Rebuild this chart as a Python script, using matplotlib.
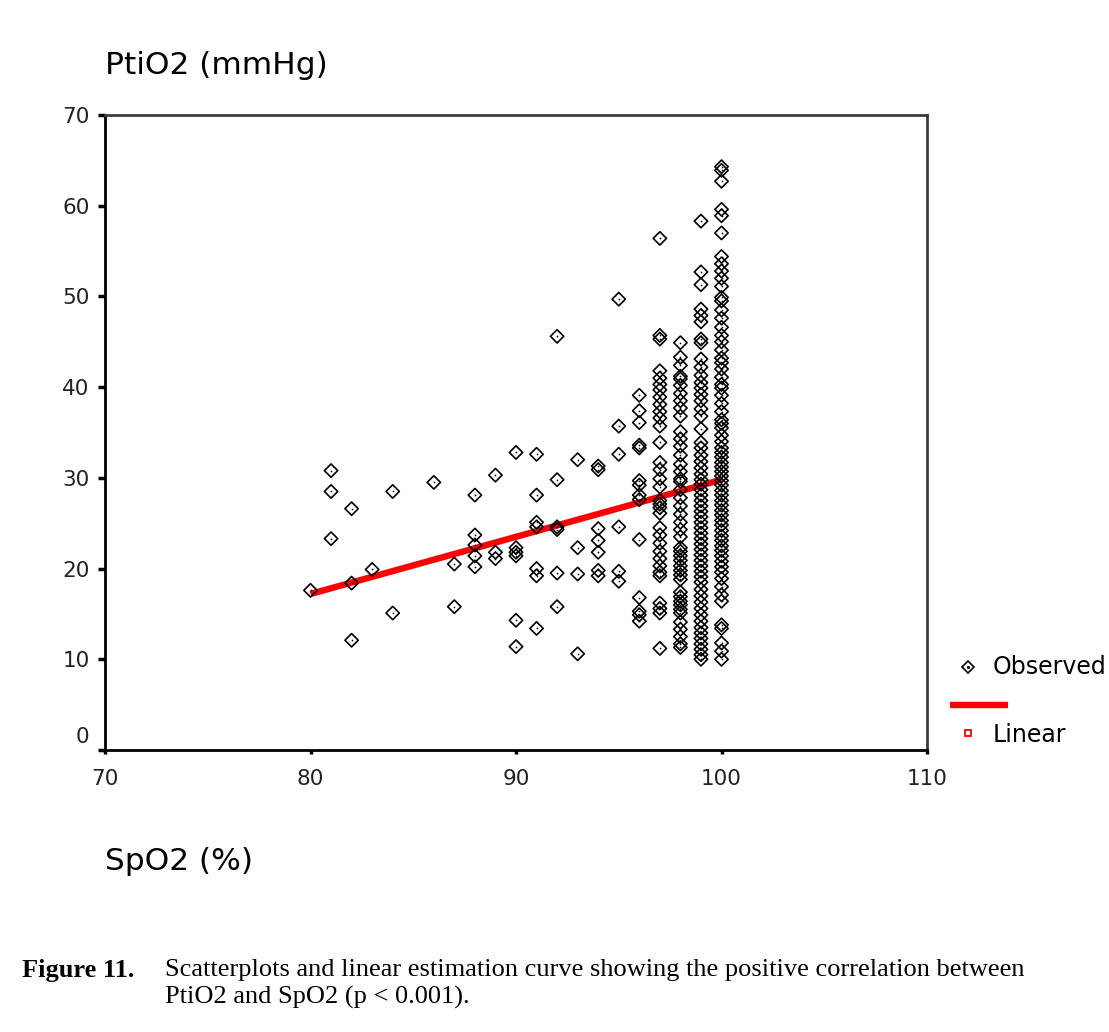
import numpy as np
import matplotlib
matplotlib.use('Agg')
import matplotlib.pyplot as plt
from matplotlib.lines import Line2D
from matplotlib.transforms import ScaledTranslation

# observed points, grouped by SpO2 (%) value -> PtiO2 (mmHg)
obs = {
    80: [17.6],
    81: [30.8, 28.5, 23.3],
    82: [26.6, 18.4, 12.1],
    83: [19.9],
    84: [28.5, 15.1],
    86: [29.5],
    87: [20.5, 15.8],
    88: [28.1, 23.7, 22.6, 21.4, 20.2],
    89: [30.3, 21.8, 21.1],
    90: [32.8, 22.3, 21.8, 21.4, 14.3, 11.4],
    91: [32.6, 28.1, 25.1, 24.6, 20.0, 19.2, 13.4],
    92: [45.6, 29.8, 24.6, 24.3, 19.5, 15.8],
    93: [32.0, 22.3, 19.4, 10.6],
    94: [31.3, 30.9, 24.4, 23.1, 21.8, 19.8, 19.2],
    95: [49.7, 35.7, 32.6, 24.6, 19.7, 18.6],
    96: [39.1, 37.4, 36.1, 33.6, 33.3, 29.7, 29.2, 28.1, 27.6, 23.2, 16.8, 15.3, 14.9, 14.2],
    97: [56.4, 45.7, 45.3, 41.8, 41.0, 40.3, 39.7, 38.9, 38.1, 37.3, 36.6, 35.7, 33.9, 31.7,
         30.9, 29.9, 29.0, 27.5, 27.1, 26.7, 26.1, 24.5, 23.7, 22.8, 21.9, 21.1, 20.3, 19.6,
         19.2, 16.2, 15.6, 15.1, 11.2],
    98: [44.9, 43.3, 42.4, 41.2, 40.9, 40.2, 39.3, 38.5, 37.7, 36.8, 35.1, 34.3, 33.5, 32.5,
         31.5, 30.7, 29.9, 29.6, 28.7, 27.8, 26.9, 26.0, 25.1, 24.3, 23.5, 22.3, 21.9, 21.4,
         20.9, 20.3, 19.8, 19.3, 18.8, 17.4, 16.9, 16.4, 16.0, 15.5, 15.1, 14.1, 13.3, 12.5,
         11.7, 11.3],
    99: [58.3, 52.7, 51.3, 48.6, 47.9, 47.2, 45.3, 44.9, 43.1, 42.2, 41.3, 40.5, 39.9, 39.2,
         38.5, 37.6, 36.8, 35.4, 33.9, 33.3, 32.5, 31.8, 31.1, 30.4, 29.8, 29.3, 28.7, 28.1,
         27.5, 26.9, 26.3, 25.7, 25.1, 24.5, 23.9, 23.3, 22.7, 22.1, 21.5, 20.9, 20.3, 19.7,
         19.1, 18.5, 17.7, 17.0, 16.3, 15.6, 14.9, 14.2, 13.5, 12.9, 12.3, 11.7, 11.1, 10.5,
         10.0],
    100: [64.3, 63.9, 62.7, 59.6, 58.9, 57.0, 54.4, 53.6, 52.8, 52.0, 51.1, 49.9, 49.5, 48.5,
          47.6, 46.6, 45.7, 45.0, 44.1, 43.2, 42.7, 42.0, 41.1, 40.3, 39.9, 39.1, 38.2, 37.3,
          36.4, 36.0, 35.5, 34.7, 34.0, 33.3, 32.8, 32.3, 31.7, 31.2, 30.7, 30.2, 29.7, 29.2,
          28.6, 28.1, 27.5, 27.0, 26.4, 25.9, 25.3, 24.8, 24.2, 23.6, 23.1, 22.5, 22.0, 21.4,
          20.8, 20.2, 19.6, 18.9, 18.0, 17.1, 16.4, 13.8, 13.4, 11.8, 10.9, 10.0],
}

# linear estimation curve end points
fit_x = [80, 100]
fit_y = [17.2, 29.8]

x_ticks = [70, 80, 90, 100, 110]
y_ticks = [0, 10, 20, 30, 40, 50, 60, 70]

spo2 = np.concatenate([[k] * len(v) for k, v in obs.items()])
ptio2 = np.concatenate([v for v in obs.values()])

f = plt.figure(figsize=(11.09, 10.32), dpi=100)
ax = f.add_axes([105/1109, 1-750/1032, 822/1109, 635/1032])

ax.scatter(spo2, ptio2, marker='D', s=46, facecolor='none', edgecolor='k', lw=1.2, zorder=3)
ax.scatter(spo2, ptio2, marker='o', s=1.5, c='k', lw=0, zorder=4)
ax.plot(fit_x, fit_y, color='#ff0000', lw=4.6, solid_capstyle='butt', zorder=2)

ax.set_xlim(70, 110)
ax.set_ylim(0, 70)
ax.set_xticks(x_ticks)
ax.set_yticks(y_ticks)

for s in ['left', 'bottom']:
    ax.spines[s].set_linewidth(2.0)
    ax.spines[s].set_color('k')
for s in ['top', 'right']:
    ax.spines[s].set_linewidth(2.0)
    ax.spines[s].set_color('#3c3c3c')

ax.tick_params(axis='x', length=3, width=2.5, pad=11, labelsize=15.5, labelcolor='#222222')
ax.tick_params(axis='y', length=5, width=2.5, pad=6, labelsize=15.5, labelcolor='#222222')

# SPSS puts the "0" label a bit above the axis corner
lab0 = ax.get_yticklabels()[0]
lab0.set_transform(lab0.get_transform() + ScaledTranslation(0, 0.15, f.dpi_scale_trans))

# axis titles
f.text(105/1109, 1-65/1032, 'PtiO2 (mmHg)', fontsize=22.5, ha='left', va='center')
f.text(105/1109, 1-862/1032, 'SpO2 (%)', fontsize=22.5, ha='left', va='center')

# legend (SPSS style, drawn by hand)
f.add_artist(Line2D([968/1109], [1-667/1032], marker='D', ms=6.2, mfc='none', mec='k', mew=1.2))
f.add_artist(Line2D([968/1109], [1-667/1032], marker='o', ms=1.3, mfc='k', mec='k'))
f.text(993/1109, 1-667/1032, 'Observed', fontsize=17, ha='left', va='center')
f.add_artist(Line2D([950/1109, 1008/1109], [1-705/1032, 1-705/1032], color='#ff0000', lw=4.6,
                    solid_capstyle='butt'))
f.add_artist(Line2D([968/1109], [1-733/1032], marker='s', ms=4.5, mfc='none', mec='#ff0000', mew=1.3))
f.text(993/1109, 1-735/1032, 'Linear', fontsize=17, ha='left', va='center')

# caption
f.text(22/1109, 1-970/1032, 'Figure 11.', fontsize=19, fontweight='bold',
       family='Liberation Serif', ha='left', va='center')
f.text(165/1109, 1-970/1032,
       'Scatterplots and linear estimation curve showing the positive correlation between',
       fontsize=19, family='Liberation Serif', ha='left', va='center')
f.text(165/1109, 1-997/1032, 'PtiO2 and SpO2 (p < 0.001).',
       fontsize=19, family='Liberation Serif', ha='left', va='center')

f.savefig('out.png', dpi=100, facecolor='white')
